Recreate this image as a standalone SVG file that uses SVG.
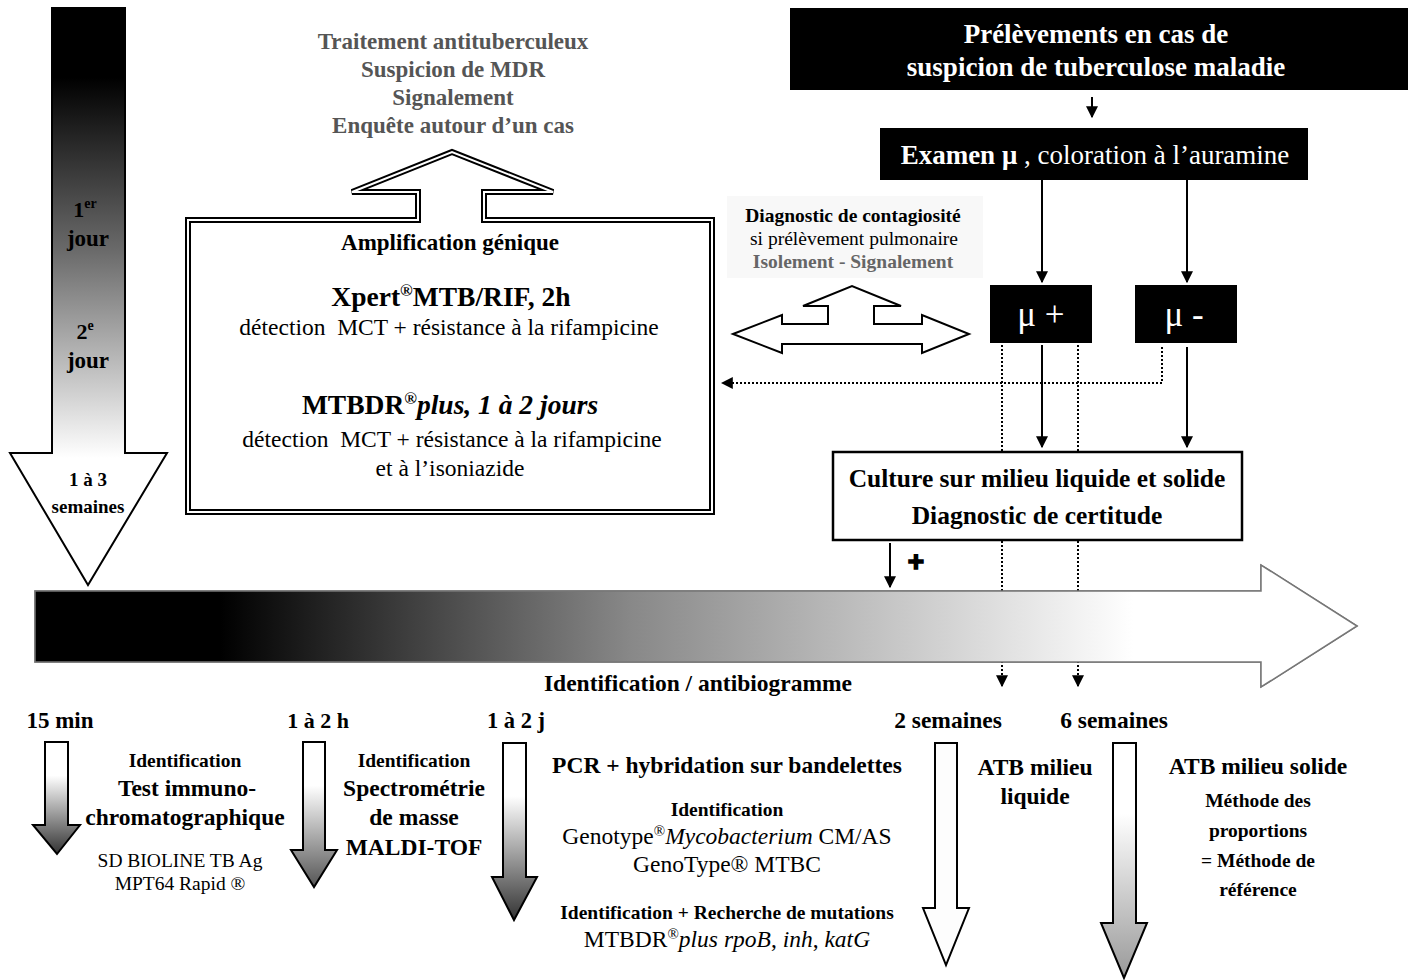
<svg xmlns="http://www.w3.org/2000/svg" width="1413" height="980" viewBox="0 0 1413 980">
<style>
text{font-family:"Liberation Serif","Times New Roman",serif;text-anchor:middle;fill:#000}
.b{font-weight:bold}
.grey{fill:#555}
.w{fill:#fff}
.ln{stroke:#000;stroke-width:2;fill:none}
.dot{stroke:#000;stroke-width:2;stroke-dasharray:2 2;fill:none}
.ol{stroke:#000;stroke-width:2}
</style>
<defs>
<linearGradient id="gV" gradientUnits="userSpaceOnUse" x1="0" y1="8" x2="0" y2="585">
<stop offset="0" stop-color="#000"/><stop offset="0.12" stop-color="#000"/><stop offset="0.42" stop-color="#6a6a6a"/><stop offset="0.78" stop-color="#fff"/><stop offset="1" stop-color="#fff"/>
</linearGradient>
<linearGradient id="gH" gradientUnits="userSpaceOnUse" x1="35" y1="0" x2="1358" y2="0">
<stop offset="0" stop-color="#000"/><stop offset="0.14" stop-color="#000"/><stop offset="0.45" stop-color="#888"/><stop offset="0.83" stop-color="#fff"/><stop offset="1" stop-color="#fff"/>
</linearGradient>
<linearGradient id="gDark" x1="0" y1="0" x2="0" y2="1">
<stop offset="0" stop-color="#fff"/><stop offset="0.3" stop-color="#fff"/><stop offset="1" stop-color="#333"/>
</linearGradient>
<linearGradient id="gMid" x1="0" y1="0" x2="0" y2="1">
<stop offset="0" stop-color="#fff"/><stop offset="0.3" stop-color="#fff"/><stop offset="1" stop-color="#555"/>
</linearGradient>
<linearGradient id="gLight" x1="0" y1="0" x2="0" y2="1">
<stop offset="0" stop-color="#fff"/><stop offset="0.3" stop-color="#fff"/><stop offset="1" stop-color="#999"/>
</linearGradient>
<marker id="ah" viewBox="0 0 10 10" refX="9" refY="5" markerWidth="6" markerHeight="6" markerUnits="strokeWidth" orient="auto">
<path d="M0,0 L10,5 L0,10 Z" fill="#000"/>
</marker>
</defs>

<!-- left vertical time arrow -->
<g id="time-vertical">
<path d="M52,8 H125 V453 H167 L88,585 L10,453 H52 Z" fill="url(#gV)" stroke="#000" stroke-width="2"/>
<text class="b" x="85" y="217" font-size="22">1<tspan font-size="14" dy="-9">er</tspan></text>
<text class="b" x="88" y="246" font-size="23">jour</text>
<text class="b" x="85" y="339" font-size="22">2<tspan font-size="14" dy="-9">e</tspan></text>
<text class="b" x="88" y="368" font-size="23">jour</text>
<text class="b" x="88" y="486" font-size="19">1 à 3</text>
<text class="b" x="88" y="513" font-size="19">semaines</text>
</g>

<!-- timeline arrow -->
<g id="timeline">
<path d="M35,591 H1261 V565 L1357,626 L1261,687 V662 H35 Z" fill="url(#gH)" stroke="#777" stroke-width="1.5"/>
<text class="b" x="698" y="691" font-size="23.5">Identification / antibiogramme</text>
</g>

<!-- top grey text -->
<g id="actions">
<text class="b grey" x="453" y="49" font-size="23">Traitement antituberculeux</text>
<text class="b grey" x="453" y="77" font-size="23">Suspicion de MDR</text>
<text class="b grey" x="453" y="105" font-size="23">Signalement</text>
<text class="b grey" x="453" y="133" font-size="23">Enquête autour d’un cas</text>
</g>

<!-- amplification box with up arrow -->
<g id="amplification">
<path d="M188,220 H418 V192 H352 L452,152 L553,192 H484 V220 H712 V512 H188 Z" fill="#fff" stroke="#000" stroke-width="6"/>
<path d="M188,220 H418 V192 H352 L452,152 L553,192 H484 V220 H712 V512 H188 Z" fill="none" stroke="#fff" stroke-width="2"/>
<text class="b" x="450" y="250" font-size="23">Amplification génique</text>
<text class="b" x="451" y="306" font-size="27.5">Xpert<tspan font-size="17" dy="-10">®</tspan><tspan dy="10">MTB/RIF, 2h</tspan></text>
<text x="449" y="335" font-size="23.5">détection&#160; MCT + résistance à la rifampicine</text>
<text class="b" x="450" y="414" font-size="27.5">MTBDR<tspan font-size="17" dy="-10">®</tspan><tspan dy="10" font-style="italic">plus, 1 à 2 jours</tspan></text>
<text x="452" y="447" font-size="23.5">détection&#160; MCT + résistance à la rifampicine</text>
<text x="450" y="476" font-size="23.5">et à l’isoniazide</text>
</g>

<!-- contagiosity -->
<g id="contagiosite">
<rect x="727" y="196" width="256" height="82" fill="#f8f8f8"/>
<text class="b" x="853" y="222" font-size="19.5">Diagnostic de contagiosité</text>
<text x="854" y="245" font-size="19.5">si prélèvement pulmonaire</text>
<text class="b" x="853" y="268" font-size="19.5" style="fill:#666">Isolement - Signalement</text>
</g>

<g id="three-way-arrow">
<path d="M733,334 L782,315 V324 H828 V306 H803 L852,286 L901,306 H874 V324 H922 V315 L969,334 L922,353 V344 H782 V353 Z" fill="#fff" stroke="#000" stroke-width="2"/>
</g>

<!-- sampling -->
<g id="prelevements">
<rect x="790" y="8" width="618" height="82" fill="#000"/>
<text class="b w" x="1096" y="43" font-size="27">Prélèvements en cas de</text>
<text class="b w" x="1096" y="76" font-size="27">suspicion de tuberculose maladie</text>
</g>

<g id="examen">
<rect x="880" y="128" width="428" height="52" fill="#000"/>
<text class="w" x="1095" y="164" font-size="27"><tspan class="b w">Examen μ</tspan> , coloration à l’auramine</text>
</g>

<g id="mu-plus">
<rect x="990" y="285" width="102" height="58" fill="#000"/>
<text class="w" x="1041" y="326" font-size="35">μ +</text>
</g>

<g id="mu-minus">
<rect x="1135" y="285" width="102" height="58" fill="#000"/>
<text class="w" x="1184" y="326" font-size="35">μ -</text>
</g>

<!-- connectors -->
<g id="connectors">
<line class="ln" x1="1092" y1="97" x2="1092" y2="117" marker-end="url(#ah)"/>
<line class="ln" x1="1042" y1="180" x2="1042" y2="282" marker-end="url(#ah)"/>
<line class="ln" x1="1187" y1="180" x2="1187" y2="282" marker-end="url(#ah)"/>
<line class="ln" x1="1042" y1="345" x2="1042" y2="447" marker-end="url(#ah)"/>
<line class="ln" x1="1187" y1="347" x2="1187" y2="447" marker-end="url(#ah)"/>
<path class="dot" d="M1162,347 V383 H722" marker-end="url(#ah)"/>
<line class="dot" x1="1002" y1="345" x2="1002" y2="686" marker-end="url(#ah)"/>
<line class="dot" x1="1078" y1="345" x2="1078" y2="686" marker-end="url(#ah)"/>
<line class="ln" x1="890" y1="543" x2="890" y2="587" marker-end="url(#ah)"/>
<text x="916" y="571" font-size="28" font-weight="bold" stroke="#000" stroke-width="1.5" style="font-family:'Liberation Sans',Arial,sans-serif">+</text>
</g>

<!-- cover parts of dotted lines -->
<g id="timeline-cover">
<path d="M35,591 H1261 V565 L1357,626 L1261,687 V662 H35 Z" fill="url(#gH)" stroke="#777" stroke-width="1.5"/>
</g>

<g id="culture">
<rect x="833" y="452" width="409" height="88" fill="#fff" stroke="#000" stroke-width="2.5"/>
<text class="b" x="1037" y="487" font-size="25.5">Culture sur milieu liquide et solide</text>
<text class="b" x="1037" y="524" font-size="25.5">Diagnostic de certitude</text>
</g>

<!-- bottom methods -->
<g id="m15min">
<text class="b" x="60" y="728" font-size="23">15 min</text>
<path d="M45,742 H68 V825 H80 L57,854 L33,825 H45 Z" fill="url(#gDark)" class="ol"/>
<text class="b" x="185" y="767" font-size="19.5">Identification</text>
<text class="b" x="187" y="796" font-size="23.5">Test immuno-</text>
<text class="b" x="185" y="825" font-size="23.5">chromatographique</text>
<text x="180" y="867" font-size="19.5">SD BIOLINE TB Ag</text>
<text x="180" y="890" font-size="19.5">MPT64 Rapid ®</text>
</g>

<g id="m1a2h">
<text class="b" x="318" y="728" font-size="22">1 à 2 h</text>
<path d="M303,742 H325 V850 H337 L314,887 L291,850 H303 Z" fill="url(#gMid)" class="ol"/>
<text class="b" x="414" y="767" font-size="19.5">Identification</text>
<text class="b" x="414" y="796" font-size="23.5">Spectrométrie</text>
<text class="b" x="414" y="825" font-size="23.5">de masse</text>
<text class="b" x="414" y="855" font-size="23.5">MALDI-TOF</text>
</g>

<g id="m1a2j">
<text class="b" x="516" y="728" font-size="22.5">1 à 2 j</text>
<path d="M503,743 H526 V877 H537 L514,920 L492,877 H503 Z" fill="url(#gDark)" class="ol"/>
<text class="b" x="727" y="773" font-size="23.5">PCR + hybridation sur bandelettes</text>
<text class="b" x="727" y="816" font-size="19.5">Identification</text>
<text x="727" y="844" font-size="23.5">Genotype<tspan font-size="15" dy="-8">®</tspan><tspan dy="8" font-style="italic">Mycobacterium</tspan> CM/AS</text>
<text x="727" y="872" font-size="23.5">GenoType® MTBC</text>
<text class="b" x="727" y="919" font-size="19.5">Identification + Recherche de mutations</text>
<text x="727" y="947" font-size="23.5">MTBDR<tspan font-size="15" dy="-8">®</tspan><tspan dy="8" font-style="italic">plus rpoB</tspan>, <tspan font-style="italic">inh</tspan>, <tspan font-style="italic">katG</tspan></text>
</g>

<g id="m2sem">
<text class="b" x="948" y="728" font-size="23.5">2 semaines</text>
<path d="M935,743 H957 V908 H969 L946,965 L923,908 H935 Z" fill="#fdfdfd" class="ol"/>
<text class="b" x="1035" y="775" font-size="23.5">ATB milieu</text>
<text class="b" x="1035" y="804" font-size="23.5">liquide</text>
</g>

<g id="m6sem">
<text class="b" x="1114" y="728" font-size="23.5">6 semaines</text>
<path d="M1113,743 H1136 V923 H1147 L1124,978 L1101,923 H1113 Z" fill="url(#gLight)" class="ol"/>
<text class="b" x="1258" y="774" font-size="23.5">ATB milieu solide</text>
<text class="b" x="1258" y="807" font-size="19.5">Méthode des</text>
<text class="b" x="1258" y="837" font-size="19.5">proportions</text>
<text class="b" x="1258" y="867" font-size="19.5">= Méthode de</text>
<text class="b" x="1258" y="896" font-size="19.5">référence</text>
</g>
</svg>
